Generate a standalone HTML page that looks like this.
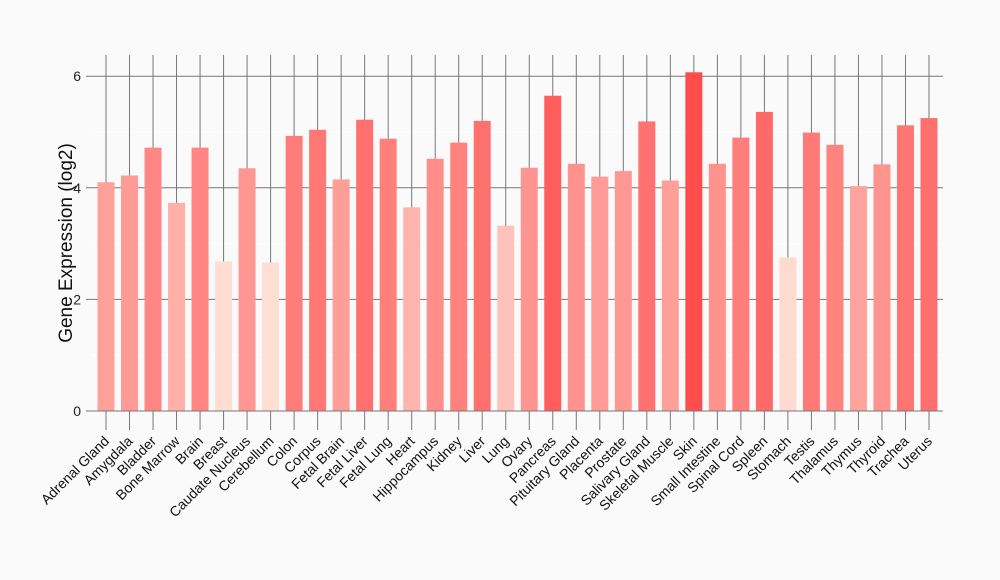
<!DOCTYPE html>
<html><head><meta charset="utf-8"><style>
html,body{margin:0;padding:0;background:#fafafa;}
svg{display:block;font-family:"Liberation Sans",sans-serif;}
</style></head><body>
<svg id="s" width="1000" height="580" xmlns="http://www.w3.org/2000/svg">
<rect width="1000" height="580" fill="#fafafa"/>
</svg>
<script>
const names=["Adrenal Gland","Amygdala","Bladder","Bone Marrow","Brain","Breast","Caudate Nucleus","Cerebellum","Colon","Corpus","Fetal Brain","Fetal Liver","Fetal Lung","Heart","Hippocampus","Kidney","Liver","Lung","Ovary","Pancreas","Pituitary Gland","Placenta","Prostate","Salivary Gland","Skeletal Muscle","Skin","Small Intestine","Spinal Cord","Spleen","Stomach","Testis","Thalamus","Thymus","Thyroid","Trachea","Uterus"];
const vals=[4.1,4.22,4.72,3.73,4.72,2.68,4.35,2.66,4.93,5.04,4.15,5.22,4.88,3.65,4.52,4.81,5.2,3.32,4.36,5.65,4.43,4.2,4.3,5.19,4.13,6.07,4.43,4.9,5.36,2.75,4.99,4.77,4.03,4.42,5.12,5.25];
const y0=411,k=55.8,x0=106,dx=(929-106)/35;
let h='';
for(const v of [1,3,5]){const y=y0-v*k;h+=`<line x1="92" x2="943" y1="${y}" y2="${y}" stroke="#fff" stroke-width="1"/>`;}
for(const v of [0,2,4,6]){const y=y0-v*k;h+=`<line x1="86" x2="943" y1="${y}" y2="${y}" stroke="#777" stroke-width="1"/><text x="81" y="${y+5}" font-size="14" text-anchor="end" fill="#222">${v}</text>`;}
names.forEach((n,i)=>{const x=x0+i*dx;h+=`<line x1="${x}" x2="${x}" y1="55" y2="430" stroke="#777" stroke-width="1"/>`;});
names.forEach((n,i)=>{const x=x0+i*dx,v=vals[i],t=Math.max(0,Math.min(1,(v-2.66)/3.41));
const g=Math.round(222-146*t),b=Math.round(212-136*t);
h+=`<rect x="${x-8.5}" y="${y0-v*k}" width="17" height="${v*k}" fill="rgb(255,${g},${b})"/>`;
h+=`<text transform="translate(${x+4},${442}) rotate(-45)" font-size="14" text-anchor="end" fill="#111">${n}</text>`;});
h+=`<line x1="92" x2="943" y1="411" y2="411" stroke="#777"/>`;
h+=`<text transform="translate(72,243) rotate(-90)" font-size="19" text-anchor="middle" fill="#111">Gene Expression (log2)</text>`;
document.getElementById('s').insertAdjacentHTML('beforeend',h);
</script>
</body></html>
